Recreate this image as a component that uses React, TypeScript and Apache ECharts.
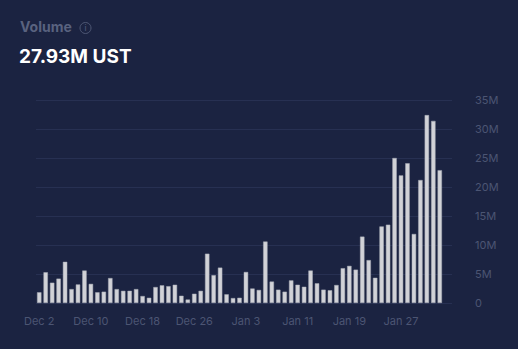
import React, { useEffect, useRef } from "react";
import * as echarts from "echarts";

const months = ["Dec", "Jan", "Feb"];
const daysPerMonthShown = [[2, 31], [1, 31], [1, 2]];
const categories: string[] = [];
daysPerMonthShown.forEach(([a, b], mi) => {
  for (let d = a; d <= b; d++) categories.push(`${months[mi]} ${d}`);
});

// Volume in millions of UST
const volumes = [
  1.85, 5.3, 3.5, 4.2, 7.1, 2.4, 3.2, 5.6, 3.3, 1.85, 1.95, 4.3, 2.4, 2.1,
  2.1, 2.4, 1.2, 0.9, 2.75, 3.05, 2.9, 3.15, 1.25, 0.6, 1.6, 2.1, 8.5, 4.8, 6.1,
  1.5, 0.85, 0.9, 5.35, 2.5, 2.25, 10.6, 3.7, 2.3, 1.95, 3.9, 3.15, 2.8, 5.6, 3.4,
  2.3, 2.2, 3.1, 6.0, 6.4, 5.75, 11.45, 7.4, 4.35, 13.2, 13.5,
  25.0, 22.0, 24.1, 11.9, 21.2, 32.4, 31.4, 22.9,
];

const yTicks = [0, 5, 10, 15, 20, 25, 30, 35];
const titleText = "Volume";
const valueText = "27.93M UST";

export default function App() {
  const ref = useRef<HTMLDivElement>(null);
  useEffect(() => {
    document.body.style.margin = "0";
    const chart = echarts.init(ref.current!, undefined, { renderer: "svg" });
    const axisColor = "#4c5573";
    chart.setOption({
      animation: false,
      backgroundColor: "#1b2341",
      graphic: [
        {
          type: "text",
          left: 20,
          top: 19,
          style: {
            text: titleText,
            fill: "#59627f",
            font: "700 14px Inter, 'Noto Sans', sans-serif",
          },
        },
        {
          type: "circle",
          shape: { cx: 85.5, cy: 28, r: 5.5 },
          style: { fill: "none", stroke: "#4f5875", lineWidth: 1 },
        },
        {
          type: "text",
          x: 85.5,
          y: 28,
          style: {
            text: "i",
            fill: "#4f5875",
            font: "500 8px Inter, sans-serif",
            align: "center",
            verticalAlign: "middle",
          },
        },
        {
          type: "text",
          left: 19,
          top: 47,
          style: {
            text: valueText,
            fill: "#ffffff",
            font: "700 19px Inter, 'Noto Sans', sans-serif",
          },
        },
      ],
      grid: [
        { left: 36, right: 66, top: 100, bottom: 46 },
        { left: 36, width: 407, top: 100, bottom: 46 },
      ],
      xAxis: [
        {
          gridIndex: 0,
          type: "value",
          show: false,
          min: 0,
          max: 1,
        },
        {
          gridIndex: 1,
          type: "category",
          data: categories,
          axisLine: { show: false },
          axisTick: { show: false },
          axisLabel: {
            interval: 7,
            color: axisColor,
            fontSize: 11,
            fontFamily: "Inter, 'Noto Sans', sans-serif",
            margin: 12,
          },
        },
      ],
      yAxis: [
        {
          gridIndex: 0,
          type: "value",
          position: "right",
          min: 0,
          max: 35,
          interval: 5,
          axisLine: { show: false },
          axisTick: { show: false },
          splitLine: { lineStyle: { color: "#273052", width: 1 } },
          axisLabel: {
            color: axisColor,
            fontSize: 11,
            fontFamily: "Inter, 'Noto Sans', sans-serif",
            margin: 23,
            align: "left",
            formatter: (v: number) => (yTicks.includes(v) ? (v === 0 ? "0" : `${v}M`) : ""),
          },
        },
        {
          gridIndex: 1,
          type: "value",
          min: 0,
          max: 35,
          show: false,
        },
      ],
      series: [
        {
          type: "bar",
          xAxisIndex: 1,
          yAxisIndex: 1,
          data: volumes,
          barWidth: "68%",
          itemStyle: { color: "#d1d2d7", borderColor: "#a9acb6", borderWidth: 0.5 },
        },
      ],
    });
    return () => chart.dispose();
  }, []);
  return <div ref={ref} style={{ width: 518, height: 349 }} />;
}
